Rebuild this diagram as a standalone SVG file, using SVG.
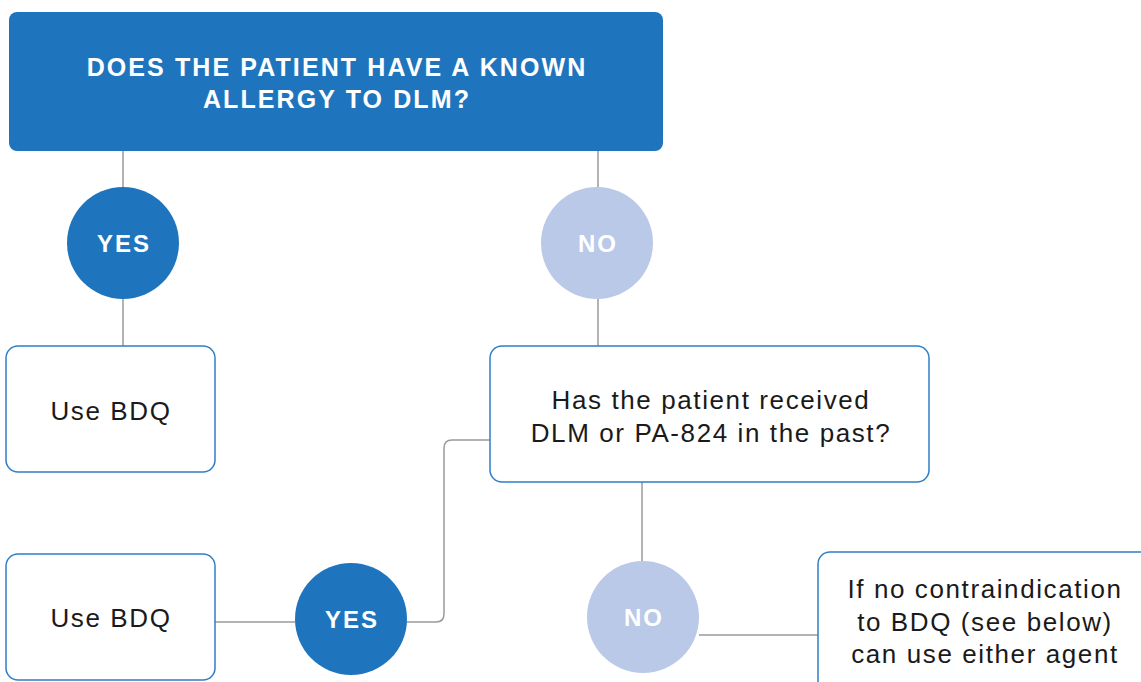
<svg xmlns="http://www.w3.org/2000/svg" width="1141" height="682" viewBox="0 0 1141 682">
<style>
.line{fill:none;stroke:#9a9a9a;stroke-width:1.5}
.box{fill:#fff;stroke:#2f7fc8;stroke-width:1.5}
.t{font-family:"Liberation Sans",Arial,sans-serif;font-size:26px;fill:#1a1a1a;text-anchor:middle;letter-spacing:1.6px}
.h{font-family:"Liberation Sans",Arial,sans-serif;font-size:25px;font-weight:bold;fill:#fff;text-anchor:middle;letter-spacing:2.1px}
.yes{fill:#1f75bd}
.no{fill:#bac9e8}
.c{font-family:"Liberation Sans",Arial,sans-serif;font-size:24px;font-weight:bold;fill:#fff;text-anchor:middle;letter-spacing:2px}
</style>
<rect width="1141" height="682" fill="#fff"/>
<g id="connectors">
<line class="line" x1="123" y1="151" x2="123" y2="187"/>
<line class="line" x1="598" y1="151" x2="598" y2="187"/>
<line class="line" x1="123" y1="299" x2="123" y2="346"/>
<line class="line" x1="598" y1="299" x2="598" y2="346"/>
<path class="line" d="M490 440 H452 Q444 440 444 448 V614 Q444 622 436 622 H406"/>
<line class="line" x1="215" y1="622" x2="295" y2="622"/>
<line class="line" x1="642" y1="482" x2="642" y2="561"/>
<line class="line" x1="699" y1="635" x2="818" y2="635"/>
</g>
<g id="header">
<rect x="9" y="12" width="654" height="139" rx="8" fill="#1f75bd"/>
<text class="h" x="337" y="76">DOES THE PATIENT HAVE A KNOWN</text>
<text class="h" x="337" y="108">ALLERGY TO DLM?</text>
</g>
<g id="yes1">
<circle class="yes" cx="123" cy="243" r="56"/>
<text class="c" x="124" y="252">YES</text>
</g>
<g id="no1">
<circle class="no" cx="597" cy="243" r="56"/>
<text class="c" x="598" y="252">NO</text>
</g>
<g id="bdq1">
<rect class="box" x="6" y="346" width="209" height="126" rx="12"/>
<text class="t" x="111" y="420">Use BDQ</text>
</g>
<g id="q2">
<rect class="box" x="490" y="346" width="439" height="136" rx="12"/>
<text class="t" x="711" y="409">Has the patient received</text>
<text class="t" x="711" y="442">DLM or PA-824 in the past?</text>
</g>
<g id="yes2">
<circle class="yes" cx="351" cy="619" r="56"/>
<text class="c" x="352" y="628">YES</text>
</g>
<g id="bdq2">
<rect class="box" x="6" y="554" width="209" height="126" rx="12"/>
<text class="t" x="111" y="627">Use BDQ</text>
</g>
<g id="no2">
<circle class="no" cx="643" cy="617" r="56"/>
<text class="c" x="644" y="626">NO</text>
</g>
<g id="either">
<rect class="box" x="818" y="552" width="340" height="150" rx="12"/>
<text class="t" x="985" y="598">If no contraindication</text>
<text class="t" x="985" y="631">to BDQ (see below)</text>
<text class="t" x="985" y="663">can use either agent</text>
</g>
</svg>
